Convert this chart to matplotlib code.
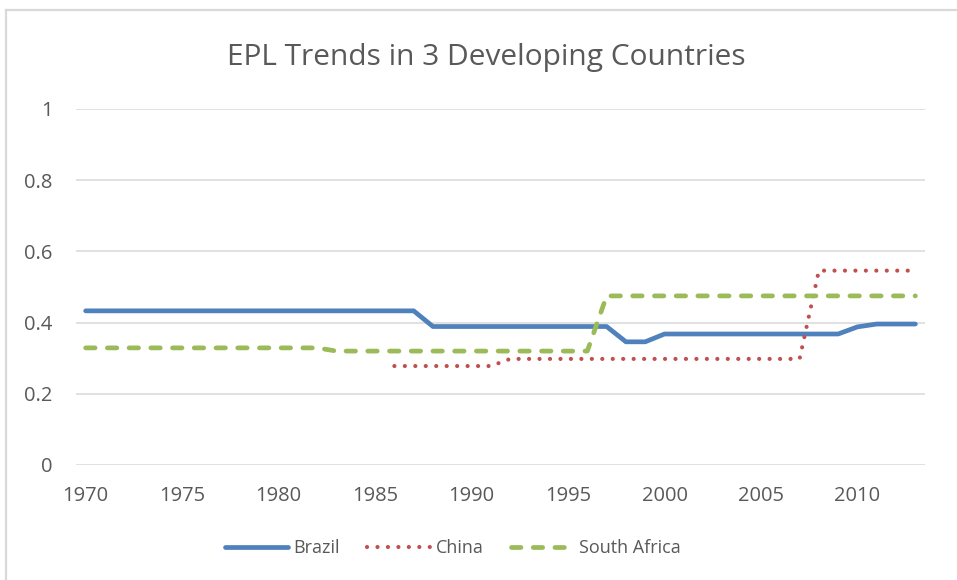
import matplotlib
matplotlib.use("Agg")
import matplotlib.pyplot as plt
from matplotlib.lines import Line2D

plt.rcParams["font.family"] = ["Open Sans", "DejaVu Sans"]

# データ
years = list(range(1970, 2014))
brazil = [0.433] * 18 + [0.389] * 10 + [0.346, 0.346] + [0.368] * 10 + [0.388, 0.396, 0.396, 0.396]
china_years = list(range(1986, 2014))
china = [0.278] * 6 + [0.298] * 16 + [0.546] * 6
south_africa = [0.329] * 13 + [0.320] * 14 + [0.475] * 17

text_color = "#595959"
grid_color = "#D9D9D9"

fig = plt.figure(figsize=(9.57, 5.80), dpi=100)
ax = fig.add_axes([76 / 957, 1 - 465 / 580, (925 - 76) / 957, (465 - 109) / 580])

ax.plot(years, brazil, color="#4F81BD", lw=3.4, solid_capstyle="round",
        solid_joinstyle="round", label="Brazil")
ax.plot(china_years, china, color="#C0504D", lw=3.0, linestyle=(0, (0.01, 2.5)),
        dash_capstyle="round", label="China")
ax.plot(years, south_africa, color="#9BBB59", lw=3.4, linestyle=(0, (2.0, 2.6)),
        dash_capstyle="round", label="South Africa")

ax.set_xlim(1969.5, 2013.5)
ax.set_ylim(0, 1)
ax.set_xticks(range(1970, 2014, 5))
ax.set_yticks([0, 0.2, 0.4, 0.6, 0.8, 1])
ax.set_yticklabels(["0", "0.2", "0.4", "0.6", "0.8", "1"])
ax.tick_params(axis="both", length=0, labelsize=14.5, labelcolor=text_color)
ax.tick_params(axis="y", pad=17)
ax.tick_params(axis="x", pad=15)
ax.grid(axis="y", color=grid_color, lw=1.1)
ax.set_axisbelow(True)
for s in ax.spines.values():
    s.set_visible(False)

fig.text(486 / 957, 1 - 57 / 580, "EPL Trends in 3 Developing Countries",
         ha="center", va="center", fontsize=21.5, color=text_color)

fig.legend(loc="center", bbox_to_anchor=(453 / 957, 1 - 548 / 580), ncol=3,
           frameon=False, fontsize=13, labelcolor=text_color,
           handlelength=3.5, handletextpad=0.3, columnspacing=1.5)

# 外枠
fig.add_artist(Line2D([6 / 957, 6 / 957], [0, 1 - 10 / 580], color=grid_color, lw=1.6))
fig.add_artist(Line2D([6 / 957, 1], [1 - 10 / 580, 1 - 10 / 580], color=grid_color, lw=1.6))

fig.savefig("out.png", dpi=100)
